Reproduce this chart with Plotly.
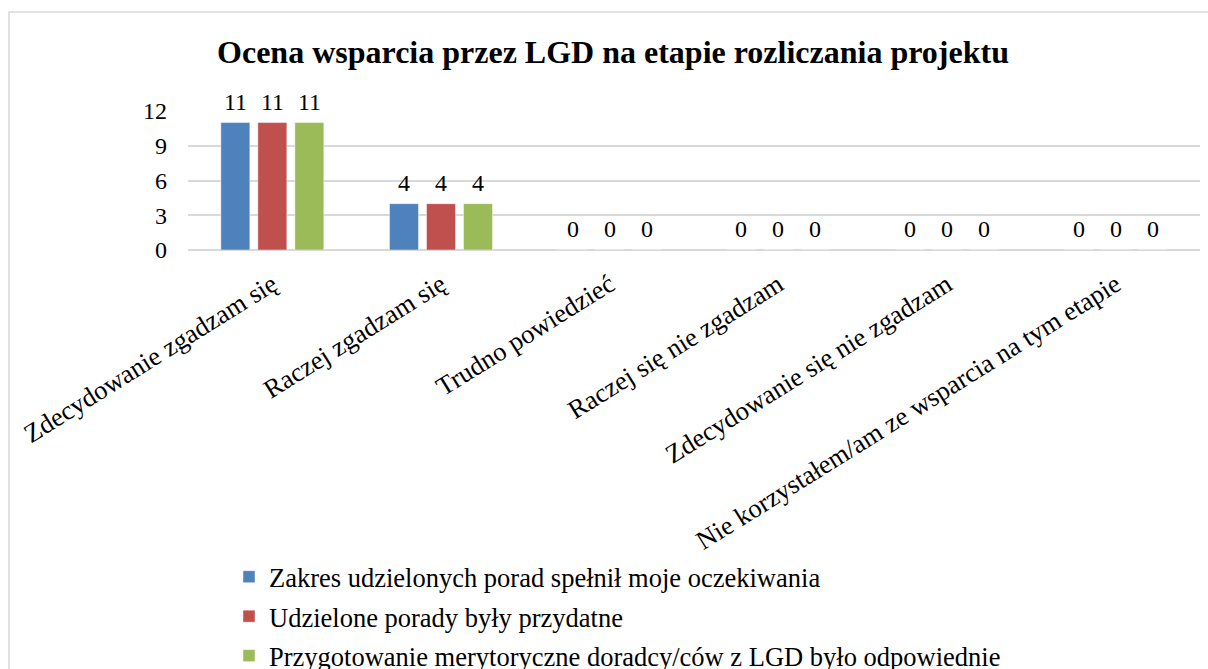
import plotly.graph_objects as go

categories = [
    "Zdecydowanie zgadzam się",
    "Raczej zgadzam się",
    "Trudno powiedzieć",
    "Raczej się nie zgadzam",
    "Zdecydowanie się nie zgadzam",
    "Nie korzystałem/am ze wsparcia na tym etapie",
]
series_names = [
    "Zakres udzielonych porad spełnił moje oczekiwania",
    "Udzielone porady były przydatne",
    "Przygotowanie merytoryczne doradcy/ców z LGD było odpowiednie",
]
values_zakres = [11, 4, 0, 0, 0, 0]
values_przydatne = [11, 4, 0, 0, 0, 0]
values_przygotowanie = [11, 4, 0, 0, 0, 0]
series_values = [values_zakres, values_przydatne, values_przygotowanie]
colors = ["#4F81BD", "#C0504D", "#9BBB59"]
y_ticks = [0, 3, 6, 9, 12]

FONT = "Liberation Serif, Times New Roman, serif"
W, H = 1208, 669
ML, MR, MT, MB = 188, 8, 111, 419
BARGAP = 0.342
BARGROUPGAP = 0.216

fig = go.Figure()
for i, (name, vals, col) in enumerate(zip(series_names, series_values, colors)):
    fig.add_trace(go.Bar(
        name=name,
        x=categories,
        y=vals,
        legendgroup=f"g{i}",
        marker=dict(color=col, line=dict(color="rgba(255,255,255,0.45)", width=1)),
        cliponaxis=False,
    ))

# value labels above each bar, positioned in axis units of the grouped layout
n_series = len(series_values)
slot = (1 - BARGAP) / n_series
annotations = []
for s, vals in enumerate(series_values):
    offset = (s - (n_series - 1) / 2) * slot
    for ci, v in enumerate(vals):
        annotations.append(dict(
            x=ci + offset, y=v, xref="x", yref="y",
            text=str(v), showarrow=False,
            xanchor="center", yanchor="bottom", yshift=6,
            font=dict(family=FONT, size=24, color="black"),
        ))

pw = W - ML - MR
ph = H - MT - MB
def px_x(p):
    return (p - ML) / pw
def px_y(p):
    return (H - MB - p) / ph

fig.update_layout(
    width=W, height=H,
    margin=dict(l=ML, r=MR, t=MT, b=MB, autoexpand=False),
    paper_bgcolor="white",
    plot_bgcolor="white",
    barmode="group",
    bargap=BARGAP,
    bargroupgap=BARGROUPGAP,
    title=dict(
        text="<b>Ocena wsparcia przez LGD na etapie rozliczania projektu</b>",
        font=dict(family=FONT, size=32, color="black"),
        x=613 / W, xanchor="center",
        y=1 - 52 / H, yanchor="middle",
    ),
    font=dict(family=FONT, color="black"),
    xaxis=dict(
        type="category",
        tickangle=-32,
        tickfont=dict(family=FONT, size=26.5, color="black"),
        showgrid=False,
        showline=False,
        ticks="",
        ticklabelstandoff=13,
    ),
    yaxis=dict(
        range=[0, 12],
        tickvals=y_ticks,
        tickfont=dict(family=FONT, size=24, color="black"),
        showgrid=True,
        gridcolor="#D9D9D9",
        gridwidth=1.5,
        zeroline=True,
        zerolinecolor="#D9D9D9",
        zerolinewidth=1.5,
        ticks="",
        ticklabelstandoff=20,
    ),
    legend=dict(
        orientation="v",
        xref="container", yref="container",
        x=229 / W, xanchor="left",
        y=1 - 553 / H, yanchor="top",
        font=dict(family=FONT, size=26.5, color="black"),
        tracegroupgap=2,
    ),
    annotations=annotations,
    shapes=[dict(
        type="rect", xref="paper", yref="paper",
        x0=px_x(9), x1=px_x(1215), y0=px_y(12), y1=px_y(680),
        line=dict(color="#D9D9D9", width=1.5),
        fillcolor="rgba(0,0,0,0)",
        layer="below",
    )],
)

fig.write_html("out.html")
